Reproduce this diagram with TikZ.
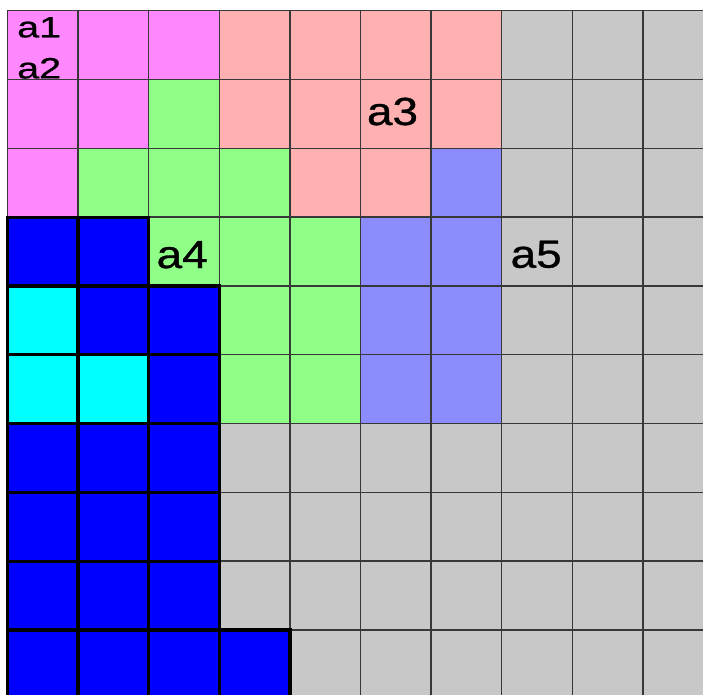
\documentclass[tikz,border=0pt]{standalone}
\usepackage{fontspec}
\setmainfont{Liberation Sans}
\newfontfamily\labelfont{Liberation Sans}[FakeBold=0.8]
\usepackage{graphicx}
\usepackage{tikz}
\definecolor{magfill}{HTML}{FF88FF}
\definecolor{pinkfill}{HTML}{FFB0B0}
\definecolor{greenfill}{HTML}{90FF88}
\definecolor{lavfill}{HTML}{8C8CFF}
\definecolor{grayfill}{HTML}{C8C8C8}
\definecolor{bluefill}{HTML}{0000FF}
\definecolor{cyanfill}{HTML}{00FFFF}
\tikzset{
  gridline/.style={draw=black!78, line width=0.6pt},
  solidcell/.style={fill=#1, draw=black, line width=1.3pt},
  biglabel/.style={font=\labelfont\fontsize{15.8}{16}\selectfont, anchor=base west, inner sep=0pt},
  smalllabel/.style={font=\labelfont\fontsize{11.8}{12}\selectfont, anchor=base west, inner sep=0pt},
}
\newcommand{\wide}[2]{\scalebox{#1}[1]{#2}}

\begin{document}
\begin{tikzpicture}[x=1cm, y={(0,-0.9745cm)}]
  \clip (-0.106,-0.156) rectangle (9.851,9.932);
  \fill[white] (-0.106,-0.156) rectangle (9.851,9.932);
  \fill[grayfill] (0,0) rectangle (10,10);
  % coloured regions
  \foreach \c/\r in {0/0,1/0,2/0,0/1,1/1,0/2}
    \fill[magfill] (\c,\r) rectangle ++(1,1);
  \foreach \c/\r in {3/0,4/0,5/0,6/0,3/1,4/1,5/1,6/1,4/2,5/2}
    \fill[pinkfill] (\c,\r) rectangle ++(1,1);
  \foreach \c/\r in {2/1,1/2,2/2,3/2,2/3,3/3,4/3,3/4,4/4,3/5,4/5}
    \fill[greenfill] (\c,\r) rectangle ++(1,1);
  \foreach \c/\r in {6/2,5/3,6/3,5/4,6/4,5/5,6/5}
    \fill[lavfill] (\c,\r) rectangle ++(1,1);
  % grid
  \foreach \i in {0,...,10} {
    \draw[gridline] (\i,0) -- (\i,10);
    \draw[gridline] (0,\i) -- (10,\i);
  }
  % solid cells
  \foreach \c/\r in {0/3,1/3,1/4,2/4,2/5,0/6,1/6,2/6,0/7,1/7,2/7,0/8,1/8,2/8,0/9,1/9,2/9,3/9}
    \draw[solidcell=bluefill] (\c,\r) rectangle ++(1,1);
  \foreach \c/\r in {0/4,0/5,1/5}
    \draw[solidcell=cyanfill] (\c,\r) rectangle ++(1,1);
  % labels
  \node[smalllabel] (a1) at (0.13,0.387) {\wide{1.35}{a1}};
  \node[smalllabel] (a2) at (0.13,0.983) {\wide{1.35}{a2}};
  \node[biglabel] (a3) at (5.085,1.661) {\wide{1.17}{a3}};
  \node[biglabel] (a4) at (2.106,3.740) {\wide{1.17}{a4}};
  \node[biglabel] (a5) at (7.12,3.735) {\wide{1.17}{a5}};
\end{tikzpicture}
\end{document}
